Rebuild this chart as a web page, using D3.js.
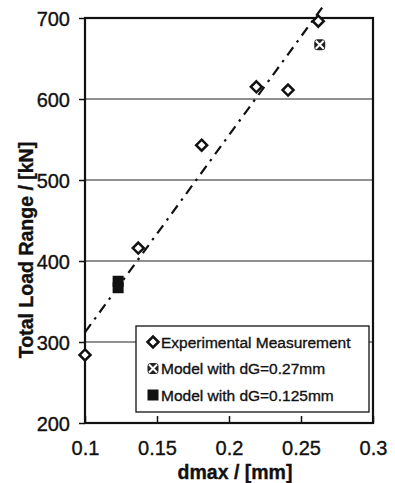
<!DOCTYPE html>
<html>
<head>
<meta charset="utf-8">
<script src="https://cdn.jsdelivr.net/npm/d3@7"></script>
<style>
  body { margin: 0; background: #fff; }
  text { font-family: "Liberation Sans", Arial, sans-serif; fill: #111; stroke: #111; stroke-width: 0.35px; }
</style>
</head>
<body>
<div id="chart"></div>
<script>
const expX = [0.1, 0.137, 0.181, 0.219, 0.241, 0.262];
const expY = [284, 416, 543, 615, 611, 696];
const modelAX = [0.263];
const modelAY = [667];
const modelBX = [0.123, 0.123];
const modelBY = [375, 367];
const trendX = [0.1, 0.266];
const trendY = [312, 716];
const xTicks = [0.1, 0.15, 0.2, 0.25, 0.3];
const yTicks = [200, 300, 400, 500, 600, 700];
const legendLabels = ["Experimental Measurement", "Model with dG=0.27mm", "Model with dG=0.125mm"];

const w = 395, h = 483;
const mLeft = 85, mRight = 373, mTop = 18, mBottom = 423;

const svg = d3.select("#chart").append("svg")
    .attr("width", w)
    .attr("height", h);

const xScale = d3.scaleLinear().domain([0.1, 0.3]).range([mLeft, mRight]);
const yScale = d3.scaleLinear().domain([200, 700]).range([mBottom, mTop]);

// grid
svg.append("g")
    .selectAll("line")
    .data(yTicks.filter(d => d > 200 && d < 700))
    .enter()
    .append("line")
    .attr("x1", mLeft).attr("x2", mRight)
    .attr("y1", d => yScale(d)).attr("y2", d => yScale(d))
    .attr("stroke", "#222").attr("stroke-width", 1);

// y axis
const yAxis = d3.axisLeft(yScale).tickValues(yTicks).tickSize(6).tickPadding(9).tickFormat(d3.format("d"));
const gy = svg.append("g").attr("transform", `translate(${mLeft},0)`).call(yAxis);
gy.select(".domain").remove();
gy.selectAll("line").attr("stroke", "#111").attr("stroke-width", 1.5);
gy.selectAll("text").style("font-size", "20px").attr("dy", "0.36em");

// x axis (ticks inward)
const xAxis = d3.axisBottom(xScale).tickValues(xTicks).tickSizeInner(-7).tickSizeOuter(0).tickPadding(18)
    .tickFormat(d => d3.format("")(d));
const gx = svg.append("g").attr("transform", `translate(0,${mBottom})`).call(xAxis);
gx.select(".domain").remove();
gx.selectAll("line").attr("stroke", "#111").attr("stroke-width", 1.5);
gx.selectAll("text").style("font-size", "20px");

// frame
svg.append("rect")
    .attr("x", mLeft).attr("y", mTop)
    .attr("width", mRight - mLeft).attr("height", mBottom - mTop)
    .attr("fill", "none").attr("stroke", "#111").attr("stroke-width", 2.2);

// trend line
const line = d3.line().x(d => xScale(d[0])).y(d => yScale(d[1]));
svg.append("path")
    .datum(d3.zip(trendX, trendY))
    .attr("d", line)
    .attr("fill", "none")
    .attr("stroke", "#111")
    .attr("stroke-width", 2.2)
    .attr("stroke-dasharray", "10,6,2.5,6");

// markers
function diamond(g, x, y) {
    g.append("path")
        .attr("d", `M${x},${y - 5.5}L${x + 5.5},${y}L${x},${y + 5.5}L${x - 5.5},${y}Z`)
        .attr("fill", "#fff").attr("stroke", "#111").attr("stroke-width", 2.5);
}
function crossBox(g, x, y) {
    g.append("rect").attr("x", x - 5.5).attr("y", y - 5.5).attr("width", 11).attr("height", 11)
        .attr("rx", 3.5).attr("fill", "#222");
    g.append("path").attr("d", `M${x - 4},${y - 4}L${x + 4},${y + 4}M${x + 4},${y - 4}L${x - 4},${y + 4}`)
        .attr("stroke", "#fff").attr("stroke-width", 2);
}
function square(g, x, y) {
    g.append("rect").attr("x", x - 5.5).attr("y", y - 5.5).attr("width", 11).attr("height", 11)
        .attr("fill", "#111");
}

const marks = svg.append("g");
d3.zip(modelBX, modelBY).forEach(d => square(marks, xScale(d[0]), yScale(d[1])));
d3.zip(modelAX, modelAY).forEach(d => crossBox(marks, xScale(d[0]), yScale(d[1])));
d3.zip(expX, expY).forEach(d => diamond(marks, xScale(d[0]), yScale(d[1])));

// legend
const lg = svg.append("g").attr("transform", "translate(136,326)");
lg.append("rect").attr("width", 233).attr("height", 86)
    .attr("fill", "#fff").attr("stroke", "#111").attr("stroke-width", 1.3);
const drawers = [diamond, crossBox, square];
legendLabels.forEach((t, i) => {
    const cy = 16 + i * 26.5;
    drawers[i](lg, 17, cy);
    lg.append("text").attr("x", 25).attr("y", cy).attr("dy", "0.36em")
        .style("font-size", "15.5px").text(t);
});

// axis titles
svg.append("text")
    .attr("x", (mLeft + mRight) / 2 + 6).attr("y", 478.5)
    .attr("text-anchor", "middle")
    .style("font-size", "19.5px").style("font-weight", "bold")
    .text("dmax / [mm]");

svg.append("text")
    .attr("transform", "translate(33,250) rotate(-90)")
    .attr("text-anchor", "middle")
    .style("font-size", "19.5px").style("font-weight", "bold")
    .text("Total Load Range / [kN]");
</script>
</body>
</html>
